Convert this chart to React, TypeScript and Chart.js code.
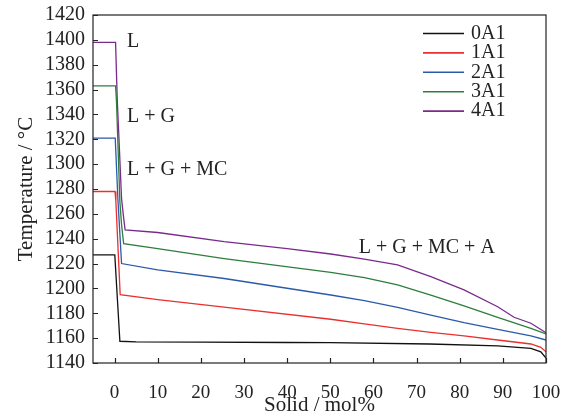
import React, { useEffect, useRef } from "react";
import { Chart, registerables } from "chart.js";

Chart.register(...registerables);

const FONT = '"Liberation Serif", "Times New Roman", serif';
Chart.defaults.font.family = FONT;

const seriesNames = ["0A1", "1A1", "2A1", "3A1", "4A1"];
const seriesColors = ["#111111", "#e8302f", "#2b5aa8", "#2e7d3c", "#7a2a8c"];

const xTickValues = [0, 10, 20, 30, 40, 50, 60, 70, 80, 90, 100];
const yTickValues = [1140, 1160, 1180, 1200, 1220, 1240, 1260, 1280, 1300, 1320, 1340, 1360, 1380, 1400, 1420];

const x0A1 = [-5, 0.05, 1.23, 5, 20, 40, 50, 73, 88.8, 96.5, 98.8, 100];
const y0A1 = [1227, 1227, 1157.5, 1157, 1156.8, 1156.5, 1156.4, 1155.3, 1153.7, 1151.8, 1149, 1144];

const x1A1 = [-5, 0.1, 0.3, 1.3, 10, 25.4, 50.1, 57.9, 65.6, 73.3, 81, 88.8, 96.5, 98.8, 100];
const y1A1 = [1278, 1278, 1270, 1195, 1191, 1185, 1175.2, 1171.4, 1167.9, 1164.7, 1161.8, 1158.5, 1155.3, 1152.6, 1149];

const x2A1 = [-5, 0.15, 0.77, 1.0, 1.62, 10, 25.4, 50.1, 57.9, 65.6, 73.3, 81, 88.8, 96.5, 100];
const y2A1 = [1321, 1321, 1272, 1258, 1220, 1215, 1208, 1194.7, 1190.2, 1184.8, 1178.6, 1172.5, 1167.1, 1161.8, 1158.5];

const x3A1 = [-5, 0.23, 0.45, 1.23, 1.6, 2.1, 10, 25.4, 50.1, 57.9, 65.6, 73.3, 81, 88.8, 96.5, 100];
const y3A1 = [1363, 1363, 1350, 1270, 1252, 1236, 1232, 1224, 1213, 1208.7, 1202.8, 1194.7, 1185.9, 1176.8, 1167.9, 1163.4];

const x4A1 = [-5, 0.23, 0.62, 1.0, 1.62, 2.16, 2.45, 10, 25.4, 40, 50.1, 57.9, 65.6, 73.3, 81, 88.8, 92.6, 96.5, 100];
const y4A1 = [1398, 1398, 1352, 1322, 1272, 1255, 1247, 1245, 1237.6, 1232, 1227.7, 1223.5, 1218.9, 1209.5, 1198.8, 1185.3, 1176.8, 1172, 1164.4];

const seriesX = [x0A1, x1A1, x2A1, x3A1, x4A1];
const seriesY = [y0A1, y1A1, y2A1, y3A1, y4A1];

const phaseLabels = ["L", "L + G", "L + G + MC", "L + G + MC + A"];
const phaseLabelX = [2.9, 2.9, 2.9, 56.6];
const phaseLabelY = [1398.7, 1338.2, 1295.3, 1232.8];

const framePlugin = {
  id: "frame",
  afterDraw(chart: any) {
    const { ctx, chartArea: a, scales } = chart;
    const xs = scales.x;
    const ys = scales.y;
    ctx.save();
    ctx.strokeStyle = "#222";
    ctx.lineWidth = 1.2;
    ctx.strokeRect(a.left, a.top, a.right - a.left, a.bottom - a.top);
    ctx.beginPath();
    xs.ticks.forEach((t: any) => {
      const px = Math.round(xs.getPixelForValue(t.value)) + 0.5;
      ctx.moveTo(px, a.bottom);
      ctx.lineTo(px, a.bottom - 5);
    });
    ys.ticks.forEach((t: any) => {
      const py = Math.round(ys.getPixelForValue(t.value)) + 0.5;
      ctx.moveTo(a.left, py);
      ctx.lineTo(a.left + 5, py);
    });
    ctx.stroke();

    ctx.font = `20px ${FONT}`;
    ctx.fillStyle = "#222";
    ctx.textBaseline = "middle";
    ctx.textAlign = "left";
    phaseLabels.forEach((s, i) => {
      ctx.fillText(s, xs.getPixelForValue(phaseLabelX[i]), ys.getPixelForValue(phaseLabelY[i]));
    });

    const lx = a.right - 123;
    chart.data.datasets.forEach((ds: any, i: number) => {
      const ly = a.top + 18.5 + i * 19.4;
      ctx.strokeStyle = ds.borderColor;
      ctx.lineWidth = 1.6;
      ctx.beginPath();
      ctx.moveTo(lx, ly);
      ctx.lineTo(lx + 41, ly);
      ctx.stroke();
      ctx.fillStyle = "#222";
      ctx.fillText(ds.label, lx + 48, ly);
    });
    ctx.restore();
  },
};

export default function App() {
  const ref = useRef<HTMLCanvasElement | null>(null);
  useEffect(() => {
    if (!ref.current) return;
    const datasets = seriesNames.map((name, i) => ({
      label: name,
      data: seriesX[i].map((xv, j) => ({ x: xv, y: seriesY[i][j] })),
      borderColor: seriesColors[i],
      backgroundColor: seriesColors[i],
      borderWidth: 1.3,
      pointRadius: 0,
      tension: 0,
      fill: false,
    }));
    const chart = new Chart(ref.current, {
      type: "line",
      data: { datasets },
      plugins: [framePlugin],
      options: {
        animation: false,
        responsive: false,
        layout: { padding: { top: 15, right: 28, left: 0, bottom: 0 } },
        plugins: { legend: { display: false }, tooltip: { enabled: false } },
        scales: {
          x: {
            type: "linear",
            min: -5,
            max: 100,
            afterBuildTicks: (scale: any) => {
              scale.ticks = xTickValues.map((v) => ({ value: v }));
            },
            afterFit: (scale: any) => {
              scale.height = 53;
              scale.paddingLeft = 0;
              scale.paddingRight = 0;
            },
            border: { display: false },
            grid: { display: false, drawTicks: false },
            ticks: {
              padding: 19,
              color: "#222",
              maxRotation: 0,
              autoSkip: false,
              font: { family: FONT, size: 19 },
              callback: (v: any) => String(v),
            },
            title: {
              display: true,
              text: "Solid / mol%",
              color: "#222",
              font: { family: FONT, size: 21, lineHeight: 1 },
              padding: { top: 0, bottom: 0 },
            },
          },
          y: {
            type: "linear",
            min: 1140,
            max: 1420,
            afterBuildTicks: (scale: any) => {
              scale.ticks = yTickValues.map((v) => ({ value: v }));
            },
            afterFit: (scale: any) => {
              scale.width = 93;
              scale.paddingTop = 0;
              scale.paddingBottom = 0;
            },
            border: { display: false },
            grid: { display: false, drawTicks: false },
            ticks: {
              padding: 8,
              color: "#222",
              autoSkip: false,
              font: { family: FONT, size: 20 },
              callback: (v: any) => String(v),
            },
            title: {
              display: true,
              text: "Temperature / °C",
              color: "#222",
              font: { family: FONT, size: 21, lineHeight: 1.2 },
              padding: { top: 14, bottom: 0 },
            },
          },
        },
      },
    });
    return () => chart.destroy();
  }, []);
  return (
    <div style={{ position: "fixed", left: 0, top: 0, width: 574, height: 416, background: "#fff" }}>
      <canvas ref={ref} width={574} height={416} />
    </div>
  );
}
